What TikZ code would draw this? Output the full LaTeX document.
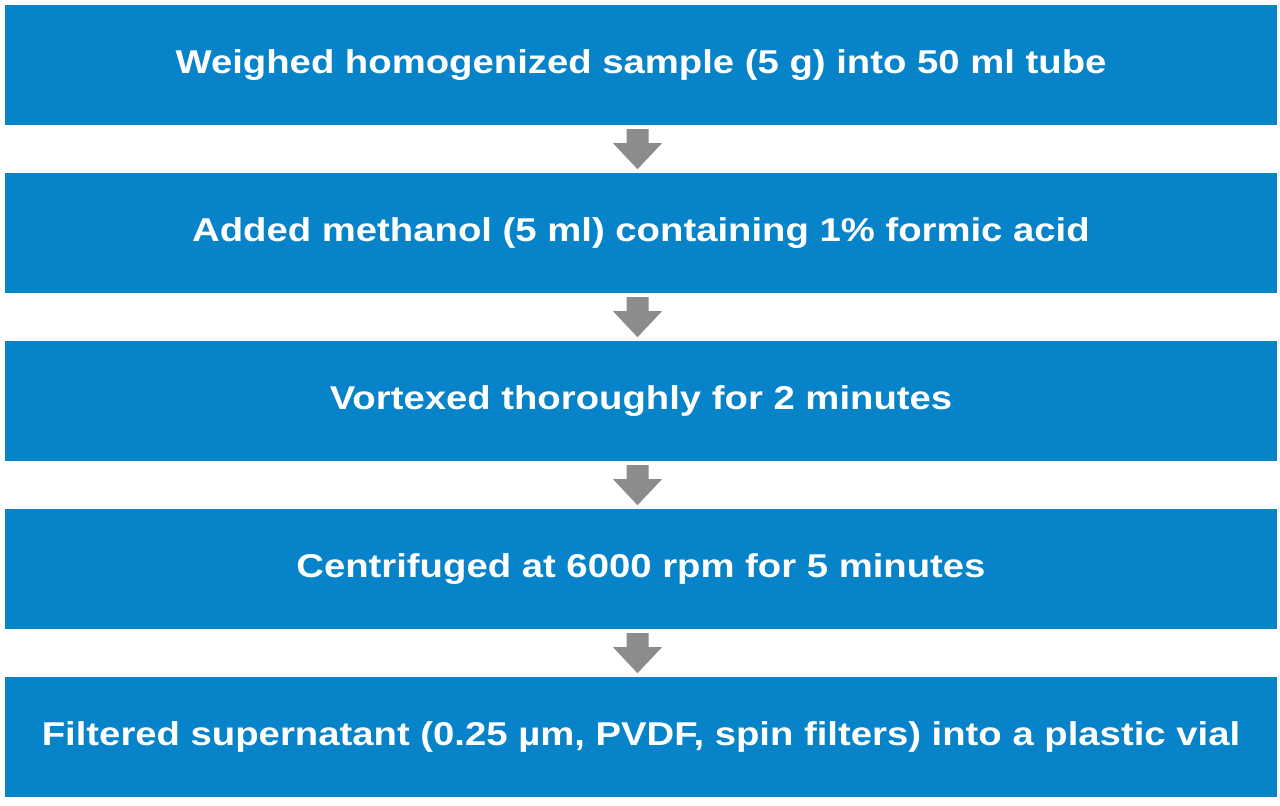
\documentclass[tikz,border=0pt]{standalone}
\usepackage{fontspec}
\setmainfont{Liberation Sans}[FakeStretch=1.16]
\usetikzlibrary{calc}
\definecolor{boxblue}{HTML}{0784C9}
\definecolor{arrowgray}{HTML}{8C8C8C}
\begin{document}
\begin{tikzpicture}[x=1pt,y=-1pt,
  stepbox/.style={fill=boxblue,draw=none,minimum width=1272pt,minimum height=120pt,
    inner sep=0pt,text=white,font=\fontsize{33}{38}\selectfont\bfseries,anchor=north},
  downarrow/.style={fill=arrowgray,draw=none}]
\useasboundingbox (0,0) rectangle (1280,806);
\node[stepbox] (b1) at (641,5) {Weighed homogenized sample (5 g) into 50 ml tube};
\node[stepbox] (b2) at (641,173) {Added methanol (5 ml) containing 1\% formic acid};
\node[stepbox] (b3) at (641,341) {Vortexed thoroughly for 2 minutes};
\node[stepbox] (b4) at (641,509) {Centrifuged at 6000 rpm for 5 minutes};
\node[stepbox] (b5) at (641,677) {Filtered supernatant (0.25 µm, PVDF, spin filters) into a plastic vial};
\foreach \a/\b in {b1/b2,b2/b3,b3/b4,b4/b5}{
  \coordinate (m\a) at ($(\a.south)!0.5!(\b.north)+(-3.5,0)$);
  \fill[downarrow] ($(m\a)+(-11,-20)$) -- ($(m\a)+(11,-20)$) -- ($(m\a)+(11,-6)$)
    -- ($(m\a)+(24.5,-6)$) -- ($(m\a)+(0,20)$) -- ($(m\a)+(-24.5,-6)$)
    -- ($(m\a)+(-11,-6)$) -- cycle;
}
\end{tikzpicture}
\end{document}
